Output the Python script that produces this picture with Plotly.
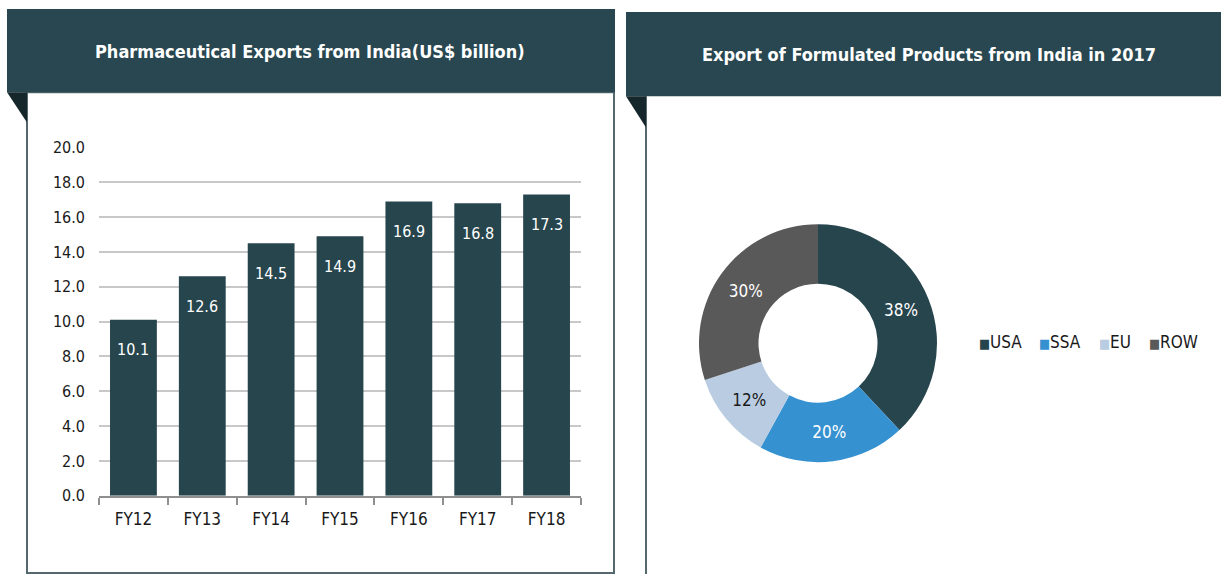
import plotly.graph_objects as go

# ---------------- data ----------------
years = ["FY12", "FY13", "FY14", "FY15", "FY16", "FY17", "FY18"]
exports = [10.1, 12.6, 14.5, 14.9, 16.9, 16.8, 17.3]

regions = ["USA", "SSA", "EU", "ROW"]
shares = [38, 20, 12, 30]

y_ticks = [0, 2, 4, 6, 8, 10, 12, 14, 16, 18, 20]

title_left = "Pharmaceutical Exports from India(US$ billion)"
title_right = "Export of Formulated Products from India in 2017"

# ---------------- style ----------------
W, H = 1221, 584
# the paper is photographed about 563 px tall, starting ~10 px from the top
TOP_OFF, PH = 10, 563
FONT = "Liberation Sans Narrow, DejaVu Sans Condensed, Roboto Condensed, Liberation Sans, sans-serif"
HEAD = "#284750"
FOLD = "#16272c"
BORDER = "#55686d"
BAR = "#27454d"
slice_colors = ["#27454d", "#3591d0", "#b9cce1", "#595959"]
slice_text = ["white", "white", "#1a1a1a", "white"]


def fx(x):
    return x / W


def fy(y):
    return min(1.0, max(0.0, 1 - (y - TOP_OFF) / PH))


fig = go.Figure()

fig.add_trace(go.Bar(
    x=years, y=exports, marker=dict(color=BAR, line=dict(width=0)),
    xaxis="x", yaxis="y", showlegend=False, hoverinfo="x+y",
))

PIE_R = 119
fig.add_trace(go.Pie(
    labels=regions, values=shares, hole=0.5, sort=False,
    direction="clockwise", rotation=0,
    marker=dict(colors=slice_colors, line=dict(width=0)),
    texttemplate="%{value}%", textposition="inside",
    insidetextorientation="horizontal",
    insidetextfont=dict(family=FONT, size=17, color=slice_text),
    domain=dict(x=[fx(818 - PIE_R), fx(818 + PIE_R)], y=[fy(343 + PIE_R), fy(343 - PIE_R)]),
    showlegend=False,
))

annotations = []
# bar value labels
for cat, v in zip(years, exports):
    annotations.append(dict(
        x=cat, y=v, xref="x", yref="y", text=f"{v:.1f}", showarrow=False,
        yshift=-30, font=dict(family=FONT, size=16, color="white"),
    ))

# panel titles
annotations.append(dict(
    x=fx(310), y=fy(52), xref="paper", yref="paper", text=f"<b>{title_left}</b>",
    showarrow=False, xanchor="center", yanchor="middle",
    font=dict(family=FONT, size=18, color="white"),
))
annotations.append(dict(
    x=fx(929), y=fy(55), xref="paper", yref="paper", text=f"<b>{title_right}</b>",
    showarrow=False, xanchor="center", yanchor="middle",
    font=dict(family=FONT, size=18, color="white"),
))

# custom legend for donut
legend_x = [977, 1037, 1097, 1147]
for lx, lab, col in zip(legend_x, regions, slice_colors):
    annotations.append(dict(
        x=fx(lx), y=fy(342), xref="paper", yref="paper",
        text=f'<span style="color:{col};font-size:13px">■</span>{lab}',
        showarrow=False, xanchor="left", yanchor="middle",
        font=dict(family=FONT, size=17, color="#1a1a1a"),
    ))

shapes = [
    # left panel box
    dict(type="rect", xref="paper", yref="paper", x0=fx(27), x1=fx(614), y0=fy(572), y1=fy(93),
         line=dict(color=BORDER, width=2), fillcolor="rgba(0,0,0,0)", layer="below"),
    # left header
    dict(type="rect", xref="paper", yref="paper", x0=fx(7), x1=fx(615), y0=fy(93), y1=fy(10),
         line=dict(width=0), fillcolor=HEAD),
    dict(type="path", xref="paper", yref="paper",
         path=f"M {fx(7)},{fy(93)} L {fx(27)},{fy(93)} L {fx(27)},{fy(123)} Z",
         line=dict(width=0), fillcolor=FOLD),
    # right panel line
    dict(type="line", xref="paper", yref="paper", x0=fx(646), x1=fx(646), y0=0, y1=fy(97),
         line=dict(color=BORDER, width=2)),
    # right header
    dict(type="rect", xref="paper", yref="paper", x0=fx(626), x1=1.0, y0=fy(97), y1=fy(13),
         line=dict(width=0), fillcolor=HEAD),
    dict(type="path", xref="paper", yref="paper",
         path=f"M {fx(626)},{fy(97)} L {fx(646)},{fy(97)} L {fx(646)},{fy(128)} Z",
         line=dict(width=0), fillcolor=FOLD),
]

fig.update_layout(
    width=W, height=H, autosize=False, margin=dict(l=0, r=0, t=0, b=0, pad=0),
    paper_bgcolor="white", plot_bgcolor="white",
    font=dict(family=FONT, size=16, color="#1a1a1a"),
    bargap=0.32,
    xaxis=dict(
        domain=[fx(99), fx(581)], range=[-0.5, 6.5], type="category",
        showline=True, linecolor="#8f8f8f", linewidth=2,
        ticks="outside", tickson="boundaries", ticklen=7, tickcolor="#8f8f8f", tickwidth=2,
        ticklabelstandoff=7, showgrid=False, zeroline=False,
        tickfont=dict(family=FONT, size=17, color="#1a1a1a"),
    ),
    yaxis=dict(
        domain=[fy(495), fy(148)], range=[0, 20], tickvals=y_ticks, tickformat=".1f",
        showgrid=True, gridcolor="#c8c8c8", gridwidth=2, zeroline=False, showline=False,
        ticks="", ticklabelstandoff=13,
        tickfont=dict(family=FONT, size=16, color="#1a1a1a"),
    ),
    annotations=annotations,
    shapes=shapes,
)

fig.write_html(
    "out.html",
    config=dict(displayModeBar=False, responsive=False),
    post_script=(
        "document.documentElement.style.margin='0';"
        "document.body.style.margin='0';document.body.style.overflow='hidden';"
        "var d=document.getElementById('{plot_id}');"
        "d.style.position='fixed';d.style.left='0px';d.style.top='0px';"
    ),
)
